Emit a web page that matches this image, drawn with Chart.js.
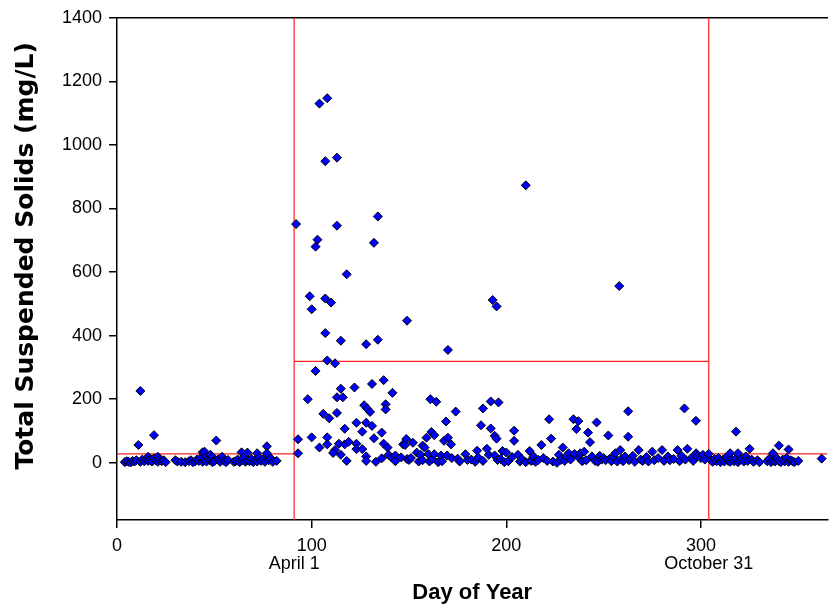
<!DOCTYPE html>
<html>
<head>
<meta charset="utf-8">
<script src="https://cdn.jsdelivr.net/npm/chart.js@4.4.1/dist/chart.umd.min.js"></script>
<style>
html,body{margin:0;padding:0;background:#fff;}
#wrap{width:833px;height:611px;}
</style>
</head>
<body>
<div id="wrap"><canvas id="c" width="833" height="611"></canvas></div>
<script>
// ---- data ----
const xTicks = [0, 100, 200, 300];
const yTicks = [0, 200, 400, 600, 800, 1000, 1200, 1400];
const xRange = [0, 365];
const yRange = [-180, 1400];
const dateMarks = [91, 304];
const dateLabels = ['April 1', 'October 31'];
const periodBounds = [0, 91, 304, 365];
const periodLevels = [28, 319, 28];

// [day of year, TSS mg/L]
const earlyWinter = [
  [4,2],[5,5],[6,3],[7,1],[8,6],[9,4],[10,8],[11,56],[12,226],[12,3],[13,10],[14,5],[15,12],[16,19],[16,6],
  [17,9],[18,4],[19,87],[19,14],[20,7],[21,19],[21,3],[22,10],[23,5],[24,8],[25,2],[30,8],[31,4],[33,3],
  [35,2],[37,5],[38,8],[39,2],[40,4],[41,10],[42,6],[43,15],[44,33],[44,3],[45,35],[45,9],[46,20],[46,4],
  [47,12],[48,7],[48,25],[49,19],[49,2],[50,5],[51,70],[52,11],[53,3],[54,19],[55,6],[56,2],[57,9],[60,3],
  [61,5],[62,10],[63,2],[64,33],[64,7],[65,14],[66,3],[67,32],[67,8],[68,5],[69,12],[70,2],[71,9],[72,30],
  [72,4],[73,16],[74,6],[75,11],[76,3],[77,52],[77,30],[78,8],[79,14],[80,3],[82,6]
];
const growingSeason = [
  [92,751],[93,74],[93,30],[98,200],[99,524],[100,483],[100,80],[102,680],[102,289],[103,702],[104,1130],
  [104,48],[106,154],[107,949],[107,517],[107,408],[108,1147],[108,80],[108,58],[109,140],[110,504],[108,322],
  [112,313],[113,960],[113,746],[113,206],[113,157],[112,40],[111,31],[114,60],[115,384],[115,233],[115,25],
  [116,206],[117,107],[117,58],[118,593],[118,6],[119,66],[122,237],[123,126],[123,60],[123,43],[126,98],
  [126,43],[127,181],[128,373],[128,126],[128,20],[128,6],[128.5,171],[130,160],[131,248],[131,116],[132,692],
  [132,77],[133,3],[134,775],[134,387],[136,95],[136,14],[137,260],[137,60],[138,184],[138,168],[139,48],
  [139.5,25],[141,17],[141.5,220],[143,23],[143,5],[146,17],[147,58],[148,56],[148.6,75],[149,12],[149,447],
  [150,9],[151,15],[152,63],[154,32],[155,4],[156,25],[157,54],[157,8],[158,48],[159,79],[160,27],[160.5,4],
  [161,200],[161.5,97],[162,12],[163,87],[163,27],[164,192],[165,2],[166.5,23],[167,5],[168,69],[169,130],
  [169.6,23],[170,355],[170,79],[171.6,58],[172,15],[174,161],[175,13],[176,4],[179,27],[180,9],[182,10],
  [184,3],[185,38],[185.5,17],[187,118],[188,171],[188,6],[190,44],[191,25],[192,193],[192,108],[193,512],
  [194,85],[194,23],[195,492],[195,76],[195.5,9],[196,190],[197,12],[198,37],[199,2],[200,32],[201,5],
  [203,18],[204,101],[204,69],[206,25],[207,4],[208,12],[210,873],[210,2],[212,37],[212.5,7],[213,6],
  [214,20],[215,3],[216.5,9],[218,56],[219,15],[221,6],[222,137],[223,76],[224,4],[226,0],[227,25],[228,9],
  [229,48],[230,6],[231,20],[232,30],[233,10],[234.5,137],[235,28],[236,106],[237,131],[237.5,15],[238,30],
  [239,5],[240,35],[241,8],[242,95],[243,65],[244,20],[245.6,6],[246.4,127],[247,3],[248,22],[249,10],
  [250,15],[251,8],[252.4,86],[253,12],[254,5],[255,20],[256,30],[257,4],[258,556],[258.5,40],[259,12],
  [260,5],[261,20],[262.6,162],[262.6,82],[263,8],[264,14],[265,22],[266,3],[268,40],[269,10],[270,6],
  [272,18],[273,4],[275,35],[276,8],[278,15],[280,40],[281,6],[283,20],[284,8],[286,12],[288,40],[289,5],
  [290,22],[291.5,171],[292,10],[293,44],[295,15],[296,6],[297.4,132],[297.5,30],[298,20],[300,15],
  [301,25],[302,10],[304,28]
];
const lateFall = [
  [305,8],[306,3],[307,12],[308,5],[309,15],[310,2],[311,9],[312,4],[313,18],[314,6],[315,30],[315,3],
  [316,10],[317,5],[318,98],[318,14],[319,30],[319,2],[320,8],[321,12],[322,4],[323,20],[324,6],[325,44],
  [326,10],[327,3],[329,8],[330,2],[334,5],[335,12],[336,2],[337,30],[337,8],[338,4],[339,14],[340,54],
  [340,6],[341,2],[342,10],[343,4],[344,15],[345,42],[345,3],[346,8],[347,5],[348,2],[350,6],[362,13]
];

// ---- build ----
const samples = earlyWinter.concat(growingSeason, lateFall).map(([x, y]) => ({x, y}));

const refLines = [];
dateMarks.forEach(d => refLines.push([{x: d, y: yRange[0]}, {x: d, y: yRange[1]}]));
periodLevels.forEach((lv, i) => refLines.push([{x: periodBounds[i], y: lv}, {x: periodBounds[i + 1], y: lv}]));

const lineSets = refLines.map(pts => ({
  type: 'line', data: pts, borderColor: '#FF2020', borderWidth: 1.2,
  pointRadius: 0, fill: false, showLine: true, order: 2
}));

const tickFont = {family: 'Liberation Sans, Arial, sans-serif', size: 18};

new Chart(document.getElementById('c'), {
  type: 'scatter',
  data: {
    datasets: [
      {
        data: samples, pointStyle: 'rectRot', pointRadius: 4.5,
        backgroundColor: '#0000FF', borderColor: '#000000', borderWidth: 1, order: 1
      },
      ...lineSets
    ]
  },
  options: {
    responsive: false, animation: false, devicePixelRatio: 1,
    layout: {padding: {top: 15, right: 0, left: 0, bottom: 0}},
    plugins: {legend: {display: false}, tooltip: {enabled: false}},
    scales: {
      x: {
        type: 'linear', position: 'bottom', min: xRange[0], max: xRange[1],
        afterBuildTicks: s => { s.ticks = xTicks.map(v => ({value: v})); },
        ticks: {font: tickFont, color: '#000', padding: 7, maxRotation: 0, autoSkip: false,
          callback: v => String(v)},
        grid: {drawOnChartArea: false, drawTicks: true, tickLength: 8, color: '#000', lineWidth: 1.5},
        border: {display: true, color: '#000', width: 1.5},
        afterFit: s => { s.height = 31; }
      },
      x2: {
        type: 'linear', position: 'bottom', min: xRange[0], max: xRange[1],
        afterBuildTicks: s => { s.ticks = dateMarks.map(v => ({value: v})); },
        ticks: {font: tickFont, color: '#000', padding: 2, maxRotation: 0, autoSkip: false,
          callback: v => dateLabels[dateMarks.indexOf(v)]},
        grid: {display: false, drawTicks: false},
        border: {display: false},
        title: {display: true, text: 'Day of Year', color: '#000',
          font: {family: 'Liberation Sans, Arial, sans-serif', size: 22, weight: 'bold'},
          padding: {top: 0, bottom: 5}},
        afterFit: s => { s.height = 60; }
      },
      xTop: {
        type: 'linear', position: 'top', min: xRange[0], max: xRange[1],
        afterBuildTicks: s => { s.ticks = []; },
        ticks: {display: false},
        grid: {drawOnChartArea: false, drawTicks: false},
        border: {display: true, color: '#000', width: 1.5},
        afterFit: s => { s.height = 0; }
      },
      y: {
        type: 'linear', position: 'left', min: yRange[0], max: yRange[1],
        afterBuildTicks: s => { s.ticks = yTicks.map(v => ({value: v})); },
        ticks: {font: tickFont, color: '#000', padding: 7, callback: v => String(v)},
        grid: {drawOnChartArea: false, drawTicks: true, tickLength: 8, color: '#000', lineWidth: 1.5},
        border: {display: true, color: '#000', width: 1.5},
        title: {display: true, text: '\u00a0\u00a0\u00a0Total Suspended Solids (mg/L)', color: '#000',
          font: {family: 'DejaVu Sans, sans-serif', size: 25, weight: 'bold'},
          padding: {top: 11, bottom: 0}},
        afterFit: s => { s.width = 117; }
      }
    }
  }
});
</script>
</body>
</html>
